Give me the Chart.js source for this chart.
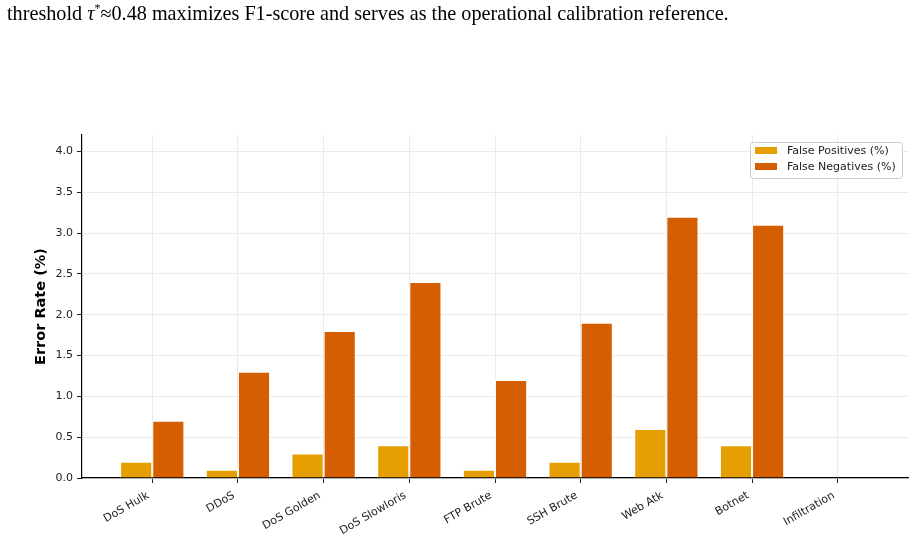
<!DOCTYPE html>
<html>
<head>
<meta charset="utf-8">
<script src="https://cdn.jsdelivr.net/npm/chart.js@4.4.1/dist/chart.umd.min.js"></script>
<style>
  html, body { margin: 0; padding: 0; background: #fff; }
  #wrap { position: relative; width: 915px; height: 541px; overflow: hidden; }
  #caption { position: absolute; left: 7px; top: 2px; font-family: "Liberation Serif", "Times New Roman", serif; font-size: 20.2px; line-height: 22px; color: #000; white-space: nowrap; }
  #caption sup { font-size: 12px; line-height: 0; }
  #chart { position: absolute; left: 0; top: 0; }
</style>
</head>
<body>
<div id="wrap">
  <canvas id="chart" width="915" height="541"></canvas>
  <div id="caption">threshold <i>τ</i><sup>*</sup>≈0.48 maximizes F1-score and serves as the operational calibration reference.</div>
</div>
<script>
var categories = ['DoS Hulk', 'DDoS', 'DoS Golden', 'DoS Slowloris', 'FTP Brute', 'SSH Brute', 'Web Atk', 'Botnet', 'Infiltration'];
var falsePositives = [0.2, 0.1, 0.3, 0.4, 0.1, 0.2, 0.6, 0.4, 0.0];
var falseNegatives = [0.7, 1.3, 1.8, 2.4, 1.2, 1.9, 3.2, 3.1, 0.0];
var yTicks = [0, 0.5, 1.0, 1.5, 2.0, 2.5, 3.0, 3.5, 4.0];

function toPoints(values) {
    return values.map(function(v, i) { return {x: i, y: v}; });
}

// legend drawn inside the plot, top right, like matplotlib's
var legendBox = {
    id: 'legendBox',
    afterDraw: function(chart) {
        var ctx = chart.ctx, area = chart.chartArea;
        var w = 152, h = 36;
        var x = area.right - 6 - w, y = area.top + 7;
        ctx.save();
        ctx.beginPath();
        ctx.roundRect(x + 0.5, y + 0.5, w, h, 3);
        ctx.fillStyle = 'rgba(255,255,255,0.8)';
        ctx.fill();
        ctx.strokeStyle = '#cccccc';
        ctx.lineWidth = 1;
        ctx.stroke();
        ctx.font = '11px "DejaVu Sans"';
        ctx.textBaseline = 'middle';
        chart.data.datasets.forEach(function(ds, i) {
            ctx.fillStyle = ds.backgroundColor;
            ctx.fillRect(x + 5, y + 5 + i * 16, 22, 7);
            ctx.fillStyle = '#222';
            ctx.fillText(ds.label, x + 37, y + 9 + i * 16);
        });
        ctx.restore();
    }
};

var config = {
    type: 'bar',
    data: {
        datasets: [{
            label: 'False Positives (%)',
            data: toPoints(falsePositives),
            backgroundColor: '#E69F00',
            borderColor: 'rgba(255,255,255,0.75)',
            borderWidth: 1
        }, {
            label: 'False Negatives (%)',
            data: toPoints(falseNegatives),
            backgroundColor: '#D55E00',
            borderColor: 'rgba(255,255,255,0.75)',
            borderWidth: 1
        }]
    },
    options: {
        responsive: false,
        animation: false,
        layout: { padding: { top: 135, right: 7, left: 0, bottom: 0 } },
        datasets: { bar: { categoryPercentage: 0.75, barPercentage: 1.0 } },
        plugins: { legend: { display: false }, tooltip: { enabled: false } },
        scales: {
            x: {
                type: 'linear',
                offset: false,
                min: -0.82,
                max: 8.82,
                afterBuildTicks: function(scale) {
                    scale.ticks = categories.map(function(c, i) { return {value: i}; });
                },
                afterFit: function(scale) { scale.height = 63; },
                grid: { offset: false, color: '#ebebeb', lineWidth: 1, tickLength: 5, tickColor: '#222' },
                border: { color: '#000', width: 1.2 },
                ticks: {
                    autoSkip: false,
                    minRotation: 30,
                    maxRotation: 30,
                    padding: 6,
                    labelOffset: -4,
                    color: '#222',
                    font: { family: 'DejaVu Sans', size: 11 },
                    callback: function(v) { return categories[v]; }
                }
            },
            y: {
                min: 0,
                max: 4.2,
                afterBuildTicks: function(scale) {
                    scale.ticks = yTicks.map(function(v) { return {value: v}; });
                },
                afterFit: function(scale) { scale.width = 82; },
                grid: { color: '#ebebeb', lineWidth: 1, tickLength: 5, tickColor: '#222' },
                border: { color: '#000', width: 1.2 },
                title: {
                    display: true,
                    text: 'Error Rate (%)',
                    color: '#000',
                    font: { family: 'DejaVu Sans', size: 14.5, weight: 'bold' },
                    padding: { top: 33, bottom: 0 }
                },
                ticks: {
                    padding: 4,
                    color: '#222',
                    font: { family: 'DejaVu Sans', size: 11 },
                    callback: function(v) { return v.toFixed(1); }
                }
            }
        }
    },
    plugins: [legendBox]
};

var ctx = document.getElementById('chart').getContext('2d');
window.errorChart = new Chart(ctx, config);
</script>
</body>
</html>
